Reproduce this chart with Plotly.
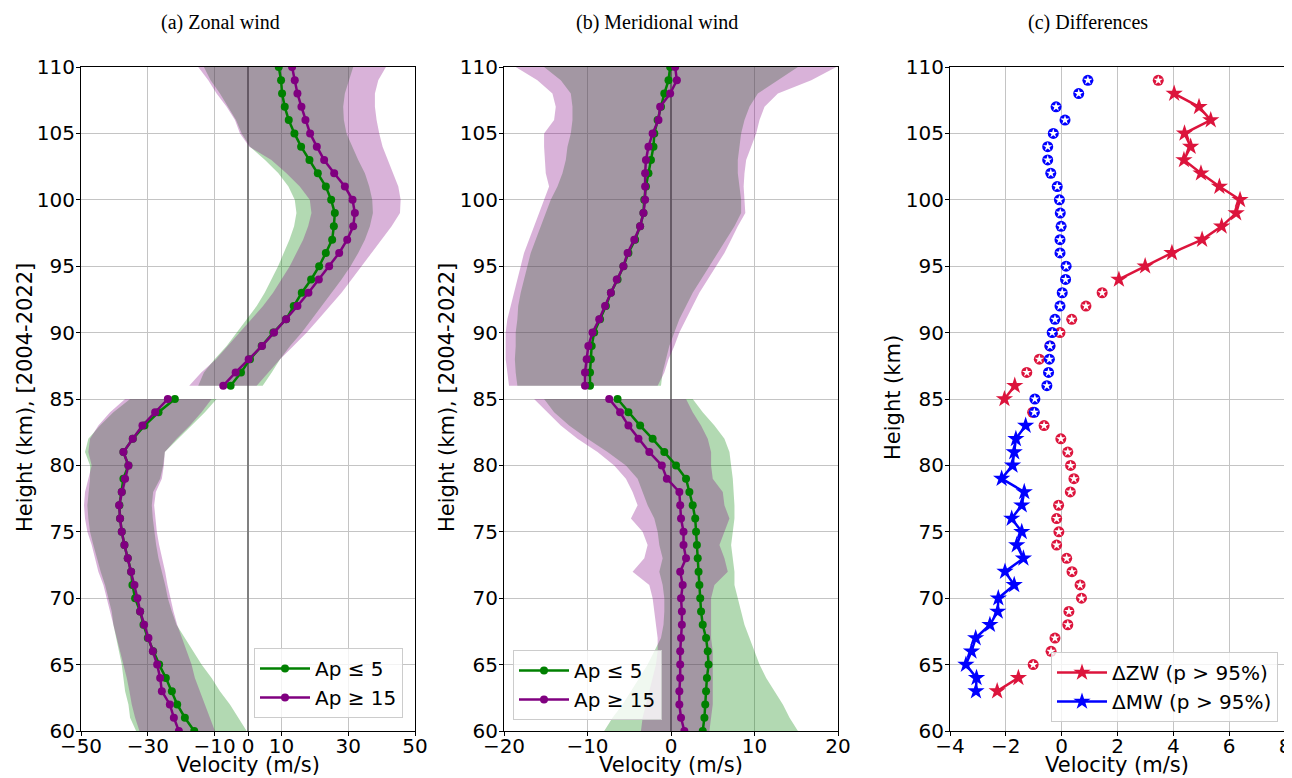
import plotly.graph_objects as go

# ---------------- data ----------------
# heights (km)
H_UP = [110, 109, 108, 107, 106, 105, 104, 103, 102, 101, 100, 99, 98, 97, 96, 95, 94, 93, 92, 91, 90, 89, 88, 87, 86]
H_LO = [85, 84, 83, 82, 81, 80, 79, 78, 77, 76, 75, 74, 73, 72, 71, 70, 69, 68, 67, 66, 65, 64, 63, 62, 61, 60]

# (a) zonal wind, upper region
ZW_G_UP = [9.2, 9.9, 10.2, 11.0, 12.2, 13.9, 15.9, 18.4, 20.9, 23.3, 24.9, 26.0, 25.7, 25.2, 23.3, 21.3, 18.9, 16.1, 13.7, 11.4, 7.6, 4.1, 0.6, -2.1, -5.2]
ZW_P_UP = [13.2, 14.0, 14.8, 16.0, 17.2, 18.6, 20.6, 22.8, 25.8, 29.0, 31.3, 32.0, 31.5, 29.7, 27.3, 24.3, 21.2, 18.1, 14.8, 11.4, 7.8, 4.2, 0.2, -3.7, -7.4]
ZW_GL_UP = [-13.2, -11.2, -8.4, -5.9, -3.6, -1.9, 0.6, 5.1, 9.1, 12.1, 14.0, 14.5, 13.8, 12.4, 10.8, 9.0, 7.0, 5.0, 2.6, -0.4, -3.4, -6.4, -10.0, -13.2, -14.9]
ZW_GR_UP = [31.5, 30.3, 29.0, 28.5, 28.7, 29.5, 31.3, 33.0, 35.0, 36.3, 37.2, 37.4, 36.5, 35.0, 33.0, 30.7, 28.0, 25.0, 22.1, 19.1, 16.1, 12.6, 9.6, 7.1, 4.4]
ZW_PL_UP = [-14.9, -11.9, -9.4, -6.4, -3.9, -2.4, 0.4, 7.0, 11.5, 15.5, 18.5, 19.0, 18.0, 16.5, 14.5, 12.5, 10.0, 7.5, 4.5, 1.0, -2.5, -6.0, -9.6, -14.0, -17.6]
ZW_PR_UP = [41.3, 39.0, 38.0, 38.0, 38.5, 39.3, 40.3, 42.0, 43.5, 45.0, 45.7, 45.5, 43.0, 40.0, 37.0, 34.0, 31.0, 28.0, 24.6, 21.1, 17.6, 13.6, 9.6, 6.1, 2.6]

# (a) zonal wind, lower region
ZW_G_LO = [-21.9, -26.8, -31.0, -34.5, -37.3, -35.8, -37.3, -37.8, -38.5, -38.3, -37.8, -37.0, -36.0, -35.0, -34.6, -33.8, -32.3, -31.3, -30.0, -28.4, -26.6, -24.6, -22.8, -21.2, -18.9, -16.1]
ZW_P_LO = [-24.0, -27.8, -31.6, -34.5, -37.3, -35.8, -36.8, -37.8, -38.6, -38.3, -37.8, -37.0, -36.0, -35.0, -34.0, -33.1, -32.3, -31.1, -29.8, -28.5, -27.2, -26.3, -25.8, -23.4, -22.2, -20.7]
ZW_GL_LO = [-35.3, -40.3, -44.3, -47.8, -48.8, -47.3, -47.3, -47.8, -48.1, -47.8, -47.3, -46.3, -45.3, -44.1, -42.8, -41.8, -40.8, -40.3, -39.5, -38.8, -37.8, -37.3, -36.8, -35.8, -35.3, -33.5]
ZW_GR_LO = [-9.4, -12.9, -16.9, -20.9, -24.9, -25.4, -26.3, -28.4, -28.8, -28.5, -28.1, -27.5, -26.8, -25.8, -24.8, -24.0, -22.8, -21.4, -18.9, -16.4, -13.9, -10.9, -8.4, -5.4, -2.9, -0.4]
ZW_PL_LO = [-36.8, -41.3, -44.8, -47.3, -47.8, -46.8, -47.8, -48.8, -49.1, -48.8, -48.1, -46.8, -45.8, -44.8, -43.3, -42.3, -41.1, -40.3, -39.1, -38.3, -37.3, -36.3, -35.5, -34.8, -33.8, -32.5]
ZW_PR_LO = [-10.9, -13.9, -17.4, -21.4, -24.9, -25.2, -25.8, -27.6, -28.1, -27.8, -27.3, -26.6, -25.8, -24.8, -24.1, -23.3, -22.3, -21.2, -19.9, -18.4, -16.9, -15.9, -14.4, -12.9, -11.4, -9.9]

# (b) meridional wind, upper region
MW_G_UP = [-0.1, -0.3, -0.8, -1.2, -1.6, -2.0, -2.1, -2.4, -2.7, -3.0, -3.2, -3.3, -3.7, -4.3, -5.1, -5.7, -6.4, -7.2, -7.8, -8.5, -9.2, -9.5, -9.6, -9.7, -9.7]
MW_P_UP = [0.5, 0.7, -0.1, -1.3, -1.5, -2.2, -2.7, -3.0, -3.1, -3.1, -3.1, -3.3, -3.7, -4.4, -5.2, -5.7, -6.5, -7.2, -7.9, -8.6, -9.4, -9.9, -10.1, -10.3, -10.3]
MW_GL_UP = [-15.2, -13.2, -12.0, -11.8, -11.8, -12.0, -12.4, -12.6, -13.0, -13.6, -14.4, -15.0, -15.6, -16.2, -16.8, -17.2, -17.6, -18.0, -18.3, -18.4, -18.6, -18.6, -18.7, -18.6, -18.4]
MW_GR_UP = [15.2, 12.8, 10.4, 9.4, 8.8, 8.4, 8.2, 8.0, 8.0, 8.2, 8.4, 8.4, 7.6, 6.6, 5.6, 4.6, 3.6, 2.6, 1.8, 1.0, 0.4, -0.2, -0.6, -1.0, -1.2]
MW_PL_UP = [-18.6, -16.0, -14.2, -13.8, -14.0, -15.2, -15.2, -15.1, -15.0, -14.6, -15.2, -15.8, -16.4, -17.0, -17.6, -18.0, -18.4, -18.8, -19.2, -19.6, -19.8, -19.8, -19.8, -19.6, -19.4]
MW_PR_UP = [19.8, 16.8, 12.8, 11.2, 10.6, 10.2, 9.6, 9.0, 8.8, 8.7, 8.8, 8.9, 8.0, 7.2, 6.4, 5.4, 4.4, 3.4, 2.6, 1.8, 1.0, 0.4, -0.3, -0.8, -1.6]

# (b) meridional wind, lower region
MW_G_LO = [-6.4, -5.1, -3.7, -2.2, -0.8, 0.6, 1.8, 2.2, 2.6, 2.9, 3.0, 3.1, 3.2, 3.3, 3.4, 3.5, 3.6, 3.8, 4.2, 4.4, 4.5, 4.3, 4.2, 4.1, 4.0, 3.8]
MW_P_LO = [-7.4, -6.1, -5.1, -3.9, -2.6, -1.1, -0.5, 1.0, 1.1, 1.2, 1.5, 1.5, 1.8, 1.1, 1.4, 1.2, 1.3, 1.3, 1.2, 1.1, 1.1, 1.1, 1.0, 1.0, 1.2, 1.6]
MW_GL_LO = [-15.2, -14.0, -12.2, -10.0, -7.6, -5.4, -4.0, -3.4, -2.8, -2.0, -1.6, -1.4, -1.0, -1.4, -1.0, -0.8, -0.8, -0.9, -1.2, -2.0, -2.8, -3.8, -4.8, -5.8, -7.0, -8.0]
MW_GR_LO = [2.6, 3.8, 5.2, 6.4, 7.0, 7.2, 7.4, 7.5, 7.6, 7.6, 7.4, 7.2, 7.4, 7.6, 7.6, 8.0, 8.4, 8.8, 9.4, 10.0, 10.6, 11.4, 12.4, 13.4, 14.2, 15.2]
MW_PL_LO = [-16.4, -14.8, -13.2, -11.2, -8.8, -6.8, -5.4, -4.6, -4.0, -4.8, -3.4, -2.8, -3.2, -4.6, -2.6, -2.2, -2.0, -1.8, -1.6, -1.6, -1.8, -2.2, -2.6, -3.0, -3.4, -3.6]
MW_PR_LO = [1.8, 2.6, 3.6, 4.4, 4.8, 4.8, 5.0, 6.2, 6.4, 7.0, 6.4, 5.8, 6.4, 6.8, 5.2, 4.8, 4.8, 4.8, 4.8, 5.0, 5.0, 5.0, 5.0, 5.0, 4.8, 4.6]

# (c) differences
H_C = [109, 108, 107, 106, 105, 104, 103, 102, 101, 100, 99, 98, 97, 96, 95, 94, 93, 92, 91, 90,
       89, 88, 87, 86, 85, 84, 83, 82, 81, 80, 79, 78, 77, 76, 75, 74, 73, 72, 71, 70,
       69, 68, 67, 66, 65, 64, 63]
D_ZW = [3.46, 4.03, 4.92, 5.34, 4.40, 4.62, 4.38, 4.99, 5.65, 6.39, 6.25, 5.73, 5.03, 3.95, 2.99, 2.05, 1.45, 0.87, 0.36, -0.06,
        -0.42, -0.80, -1.25, -1.68, -2.05, -1.04, -0.63, -0.03, 0.22, 0.32, 0.44, 0.31, -0.11, -0.18, -0.10, -0.18, 0.18, 0.37, 0.66, 0.71,
        0.26, 0.22, -0.24, -0.38, -1.02, -1.55, -2.31]
D_MW = [0.94, 0.61, -0.20, 0.12, -0.30, -0.50, -0.50, -0.39, -0.16, -0.08, -0.05, -0.02, -0.06, -0.06, 0.16, 0.14, 0.02, -0.06, -0.24, -0.34,
        -0.42, -0.44, -0.47, -0.53, -0.96, -0.98, -1.29, -1.64, -1.70, -1.76, -2.15, -1.34, -1.43, -1.79, -1.43, -1.61, -1.37, -2.03, -1.70, -2.27,
        -2.29, -2.57, -3.08, -3.23, -3.43, -3.05, -3.07]
ZW_SIG = [0, 1, 1, 1, 1, 1, 1, 1, 1, 1, 1, 1, 1, 1, 1, 1, 0, 0, 0, 0,
          0, 0, 0, 1, 1, 0, 0, 0, 0, 0, 0, 0, 0, 0, 0, 0, 0, 0, 0, 0,
          0, 0, 0, 0, 0, 1, 1]
MW_SIG = [0, 0, 0, 0, 0, 0, 0, 0, 0, 0, 0, 0, 0, 0, 0, 0, 0, 0, 0, 0,
          0, 0, 0, 0, 0, 0, 1, 1, 1, 1, 1, 1, 1, 1, 1, 1, 1, 1, 1, 1,
          1, 1, 1, 1, 1, 1, 1]

TITLES = ["(a) Zonal wind", "(b) Meridional wind", "(c) Differences"]
XLABEL = "Velocity (m/s)"
YLABELS = ["Height (km), [2004-2022]", "Height (km), [2004-2022]", "Height (km)"]
XTICKS = [[-50, -30, -10, 0, 10, 30, 50], [-20, -10, 0, 10, 20], [-4, -2, 0, 2, 4, 6, 8]]
XRANGES = [[-50, 50], [-20, 20], [-4, 8]]
YTICKS = [60, 65, 70, 75, 80, 85, 90, 95, 100, 105, 110]

# ---------------- styling ----------------
GREEN = "#008000"
PURPLE = "#800080"
GREEN_FILL = "rgba(0,128,0,0.3)"
PURPLE_FILL = "rgba(128,0,128,0.3)"
CRIMSON = "#DC143C"
BLUE = "#0000FF"
OFF = 8                      # page body margin of the browser
W, HGT = 1292 - OFF, 778 - OFF
FONT = "DejaVu Sans"

fig = go.Figure()


def band(xa, ya, left, right, h, color):
    fig.add_trace(go.Scatter(
        x=list(left) + list(right)[::-1], y=list(h) + list(h)[::-1],
        fill="toself", fillcolor=color, mode="lines", line=dict(width=0, color=color),
        hoverinfo="skip", showlegend=False, xaxis=xa, yaxis=ya))


def profile(xa, ya, lo, up, color, name, legend):
    fig.add_trace(go.Scatter(
        x=list(lo) + [None] + list(up), y=list(H_LO) + [None] + list(H_UP),
        mode="lines+markers", line=dict(color=color, width=2.5),
        marker=dict(color=color, size=8, symbol="circle"),
        name=name, legend=legend, connectgaps=False, xaxis=xa, yaxis=ya))


# panel (a)
band("x", "y", ZW_GL_UP, ZW_GR_UP, H_UP, GREEN_FILL)
band("x", "y", ZW_GL_LO, ZW_GR_LO, H_LO, GREEN_FILL)
band("x", "y", ZW_PL_UP, ZW_PR_UP, H_UP, PURPLE_FILL)
band("x", "y", ZW_PL_LO, ZW_PR_LO, H_LO, PURPLE_FILL)
profile("x", "y", ZW_G_LO, ZW_G_UP, GREEN, "Ap ≤ 5", "legend")
profile("x", "y", ZW_P_LO, ZW_P_UP, PURPLE, "Ap ≥ 15", "legend")

# panel (b)
band("x2", "y2", MW_GL_UP, MW_GR_UP, H_UP, GREEN_FILL)
band("x2", "y2", MW_GL_LO, MW_GR_LO, H_LO, GREEN_FILL)
band("x2", "y2", MW_PL_UP, MW_PR_UP, H_UP, PURPLE_FILL)
band("x2", "y2", MW_PL_LO, MW_PR_LO, H_LO, PURPLE_FILL)
profile("x2", "y2", MW_G_LO, MW_G_UP, GREEN, "Ap ≤ 5", "legend2")
profile("x2", "y2", MW_P_LO, MW_P_UP, PURPLE, "Ap ≥ 15", "legend2")


# panel (c)
def diff_series(vals, sig, color, name):
    cx = [v for v, s in zip(vals, sig) if not s]
    cy = [h for h, s in zip(H_C, sig) if not s]
    fig.add_trace(go.Scatter(x=cx, y=cy, mode="markers",
                             marker=dict(symbol="circle", size=11, color=color),
                             showlegend=False, xaxis="x3", yaxis="y3"))
    fig.add_trace(go.Scatter(x=cx, y=cy, mode="markers",
                             marker=dict(symbol="star", size=7, color="white", line=dict(width=0)),
                             showlegend=False, xaxis="x3", yaxis="y3"))
    sx = [v if s else None for v, s in zip(vals, sig)]
    fig.add_trace(go.Scatter(x=sx, y=H_C, mode="lines+markers", connectgaps=False,
                             line=dict(color=color, width=2.5),
                             marker=dict(symbol="star", size=13, color=color),
                             name=name, legend="legend3", xaxis="x3", yaxis="y3"))


diff_series(D_ZW, ZW_SIG, CRIMSON, "ΔZW (p > 95%)")
diff_series(D_MW, MW_SIG, BLUE, "ΔMW (p > 95%)")

# ---------------- layout (screen pixel positions, shifted by body margin) ----------------
def px(x):
    return (x - OFF) / W


def py(y):
    return 1 - (y - OFF) / HGT


xdom = [(81, 415), (504, 838), (950, 1285)]
ytop, ybot = 67, 731
ydom = [py(ybot), py(ytop)]

axis_common = dict(showline=True, mirror=True, linecolor="black", linewidth=1.2,
                   ticks="outside", ticklen=4, tickwidth=1.2, tickcolor="black",
                   tickfont=dict(family=FONT, size=20, color="black"),
                   showgrid=True, gridcolor="#c4c4c4", gridwidth=1.3, automargin=False)

layout = dict(width=W, height=HGT, margin=dict(l=0, r=0, t=0, b=0, autoexpand=False),
              template="none",
              paper_bgcolor="white", plot_bgcolor="white", font=dict(family=FONT, color="black"))
for i in range(3):
    xk = "xaxis" if i == 0 else f"xaxis{i+1}"
    yk = "yaxis" if i == 0 else f"yaxis{i+1}"
    yref = "y" if i == 0 else f"y{i+1}"
    xref = "x" if i == 0 else f"x{i+1}"
    layout[xk] = dict(axis_common, domain=[px(xdom[i][0]), px(xdom[i][1])], range=XRANGES[i],
                      tickvals=XTICKS[i], anchor=yref, ticklabelstandoff=-7,
                      zeroline=(i < 2), zerolinecolor="#808080", zerolinewidth=1.8)
    layout[yk] = dict(axis_common, domain=ydom, range=[60, 110], tickvals=YTICKS, anchor=xref,
                      ticklabelstandoff=-3, zeroline=False)

leg_common = dict(font=dict(family=FONT, size=20, color="black"), bgcolor="rgba(255,255,255,0.8)",
                  bordercolor="#cccccc", borderwidth=1, tracegroupgap=0, yanchor="bottom",
                  itemwidth=50)
layout["legend"] = dict(leg_common, x=px(403), xanchor="right", y=py(718))
layout["legend2"] = dict(leg_common, x=px(513), xanchor="left", y=py(720))
layout["legend3"] = dict(leg_common, x=px(1278), xanchor="right", y=py(722))

annotations = []
title_x = [220, 657, 1088]
xlabel_x = [248, 671, 1117]
ylabel_x = [25, 447, 893]
for i in range(3):
    annotations.append(dict(text=TITLES[i], x=px(title_x[i]), y=py(23), xref="paper", yref="paper",
                            showarrow=False, xanchor="center", yanchor="middle",
                            font=dict(family="Liberation Serif", size=20, color="black")))
    annotations.append(dict(text=XLABEL, x=px(xlabel_x[i]), y=py(765), xref="paper", yref="paper",
                            showarrow=False, xanchor="center", yanchor="middle",
                            font=dict(family=FONT, size=21, color="black")))
    annotations.append(dict(text=YLABELS[i], x=px(ylabel_x[i]), y=py(398), xref="paper", yref="paper",
                            showarrow=False, xanchor="center", yanchor="middle", textangle=-90,
                            font=dict(family=FONT, size=21, color="black")))
layout["annotations"] = annotations

fig.update_layout(**layout)
fig.write_html("out.html")
